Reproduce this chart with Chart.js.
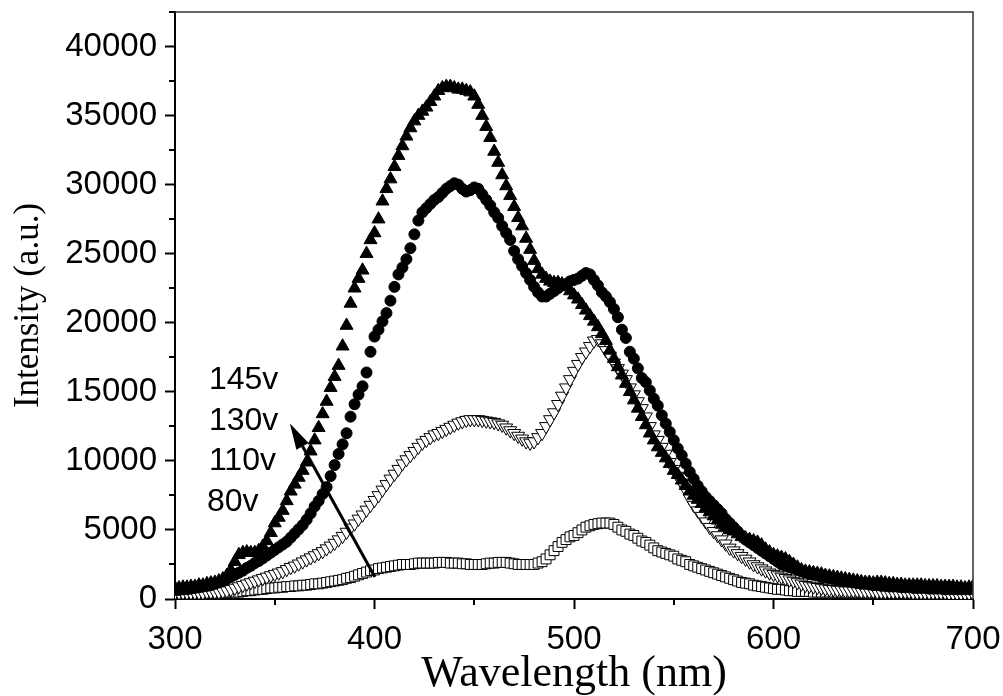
<!DOCTYPE html>
<html>
<head>
<meta charset="utf-8">
<script src="https://cdn.jsdelivr.net/npm/chart.js@4.4.1/dist/chart.umd.min.js"></script>
<style>
  html, body { margin: 0; padding: 0; background: #fff; }
  #wrap { width: 1003px; height: 696px; }
</style>
</head>
<body>
<div id="wrap"><canvas id="chart" width="1003" height="696"></canvas></div>
<script>
// wavelength grid of the spectra (nm)
const wavelengths = [
  300,302,304,306,308,310,312,314,316,318,
  320,322,324,326,328,330,332,334,336,338,
  340,342,344,346,348,350,352,354,356,358,
  360,362,364,366,368,370,372,374,376,378,
  380,382,384,386,388,390,392,394,396,398,
  400,402,404,406,408,410,412,414,416,418,
  420,422,424,426,428,430,432,434,436,438,
  440,442,444,446,448,450,452,454,456,458,
  460,462,464,466,468,470,472,474,476,478,
  480,482,484,486,488,490,492,494,496,498,
  500,502,504,506,508,510,512,514,516,518,
  520,522,524,526,528,530,532,534,536,538,
  540,542,544,546,548,550,552,554,556,558,
  560,562,564,566,568,570,572,574,576,578,
  580,582,584,586,588,590,592,594,596,598,
  600,602,604,606,608,610,612,614,616,618,
  620,622,624,626,628,630,632,634,636,638,
  640,642,644,646,648,650,652,654,656,658,
  660,662,664,666,668,670,672,674,676,678,
  680,682,684,686,688,690,692,694,696,698,
  700
];

// intensity (a.u.) per discharge voltage
const int145 = [
  800,800,850,850,900,900,1000,1000,1100,1150,
  1200,1300,1450,1700,2100,2700,3200,3350,3400,3350,
  3350,3500,3800,4200,4800,5500,5900,6400,7100,7800,
  8300,8800,9300,9900,10700,11500,12400,13400,14300,15300,
  16100,16900,18300,19800,21400,22500,23200,23800,25000,26000,
  26500,27500,28800,29700,30400,31300,32100,32800,33500,34100,
  34600,35000,35300,35600,36000,36400,36800,37000,37100,37100,
  37000,36900,36900,36800,36700,36400,35800,35000,34200,33400,
  32400,31600,30700,29900,29200,28400,27600,27000,26100,25300,
  24500,23900,23500,23200,23000,22900,22900,22800,22600,22300,
  22000,21700,21300,20900,20500,20100,19700,19200,18700,18000,
  17400,16800,16200,15600,15000,14400,13800,13200,12600,12000,
  11500,11000,10600,10200,9800,9300,9000,8600,8200,7800,
  7500,7200,6900,6600,6300,6000,5700,5400,5200,5000,
  4900,4700,4500,4400,4300,4200,4100,3900,3600,3400,
  3200,3100,3000,2900,2700,2500,2300,2100,2000,1950,
  1900,1850,1800,1700,1650,1600,1550,1500,1450,1400,
  1350,1300,1250,1200,1200,1150,1200,1200,1150,1100,
  1100,1050,1050,1000,1000,1000,1000,1000,950,950,
  950,950,900,900,900,900,850,850,800,850,
  900
];
const int130 = [
  650,650,700,700,750,800,850,900,950,1000,
  1100,1200,1300,1450,1600,1750,1900,2050,2250,2400,
  2600,2750,2950,3150,3350,3550,3750,3950,4150,4450,
  4750,5050,5350,5750,6200,6700,7100,7600,8100,8900,
  9700,10500,11200,12000,13200,14100,14800,15400,16400,17900,
  19000,19500,20100,20700,21600,22600,23500,24000,24600,25400,
  26400,27400,28000,28300,28600,28900,29100,29400,29700,29900,
  30100,30000,29700,29500,29600,29800,29700,29300,28900,28500,
  28000,27600,27000,26500,26000,25200,24600,24100,23600,23100,
  22600,22200,21900,21900,22100,22300,22500,22700,22800,23000,
  23100,23200,23400,23600,23500,23100,22700,22200,21900,21500,
  21000,20400,19500,18900,17900,17400,16700,16000,15700,15100,
  14500,14000,13300,12700,12100,11500,10900,10400,9800,9200,
  8700,8200,7800,7400,7100,6800,6500,6200,5800,5500,
  5200,4900,4600,4300,4100,3900,3700,3500,3300,3100,
  2900,2700,2500,2400,2300,2200,2100,2000,1900,1800,
  1750,1700,1600,1550,1500,1450,1400,1350,1300,1250,
  1200,1150,1100,1100,1050,1000,1000,950,950,900,
  900,900,850,850,850,800,800,800,800,750,
  750,750,750,700,700,700,700,700,700,700,
  700
];
const int110 = [
  450,450,450,450,450,450,450,450,500,500,
  500,500,550,600,700,800,900,1000,1100,1200,
  1300,1400,1500,1600,1700,1800,1900,2000,2150,2300,
  2400,2550,2700,2850,3000,3150,3300,3450,3650,3850,
  4050,4300,4550,4850,5150,5450,5800,6100,6450,6800,
  7150,7500,7900,8300,8700,9050,9400,9800,10100,10400,
  10700,11000,11300,11500,11700,11900,12000,12150,12300,12450,
  12600,12750,12850,12950,13000,13000,13000,12950,12900,12850,
  12800,12700,12600,12400,12200,12000,11800,11600,11400,11300,
  11400,11700,12000,12500,13000,13500,14100,14700,15300,15900,
  16500,17000,17500,17900,18300,18700,18800,18500,18000,17600,
  17100,16700,16300,15900,15300,14800,14300,13800,13200,12500,
  11900,11500,11000,10500,9900,9400,8900,8400,7900,7300,
  6800,6400,6000,5600,5200,4900,4600,4300,4000,3700,
  3500,3300,3100,2900,2700,2500,2350,2200,2050,1900,
  1800,1700,1600,1500,1400,1300,1200,1100,1000,950,
  900,850,800,750,700,700,650,650,600,600,
  600,600,550,550,550,550,500,500,500,500,
  500,500,500,500,500,450,450,450,450,450,
  450,450,450,450,400,400,400,400,400,400,
  400
];
const int80 = [
  450,450,450,450,450,450,450,450,450,450,
  450,450,450,450,500,500,500,550,600,600,
  650,700,700,750,800,800,850,850,900,900,
  950,950,1000,1000,1050,1100,1100,1150,1200,1250,
  1300,1350,1400,1500,1550,1650,1750,1850,1950,2050,
  2100,2200,2250,2300,2350,2400,2450,2500,2500,2500,
  2550,2600,2600,2600,2600,2600,2650,2650,2650,2600,
  2600,2600,2550,2550,2500,2500,2500,2500,2550,2600,
  2600,2650,2650,2650,2600,2550,2500,2500,2500,2500,
  2500,2600,2700,2900,3200,3500,3800,4100,4300,4500,
  4600,4800,5000,5200,5300,5400,5450,5500,5500,5500,
  5400,5200,5000,4900,4700,4600,4400,4200,4100,3900,
  3700,3500,3400,3300,3200,3100,2900,2800,2700,2500,
  2400,2300,2200,2100,2000,1900,1800,1700,1600,1500,
  1400,1300,1200,1150,1100,1000,950,900,850,800,
  750,700,700,650,600,600,550,550,550,550,
  500,500,500,500,500,500,500,500,500,500,
  500,500,500,500,500,500,500,500,500,500,
  500,500,500,500,450,450,450,450,450,450,
  450,450,450,450,450,450,450,450,450,450,
  450
];

const voltageLabels = ['145v', '130v', '110v', '80v'];

// where the voltage notes and the arrow sit, in data units
const labelPosX = [317, 317, 317, 316];
const labelPosY = [15200, 12270, 9340, 6370];
const arrowTail = {x: 400.2, y: 1600};
const arrowTip = {x: 357.6, y: 12700};

const pts = arr => wavelengths.map((w, i) => ({x: w, y: arr[i]}));

const sansFont = '"Liberation Sans", Arial, sans-serif';
const serifFont = '"Liberation Serif", "Times New Roman", serif';

// minor ticks, frame, annotations
const decor = {
    id: 'decor',
    afterDatasetsDraw(chart) {
        const {ctx, chartArea: a, scales: {x, y}} = chart;
        ctx.save();
        // top / right frame
        ctx.strokeStyle = '#333';
        ctx.lineWidth = 1.5;
        ctx.beginPath();
        ctx.moveTo(a.left, a.top);
        ctx.lineTo(a.right, a.top);
        ctx.lineTo(a.right, a.bottom);
        ctx.stroke();

        // minor ticks
        ctx.strokeStyle = '#000';
        ctx.lineWidth = 2;
        ctx.beginPath();
        y.ticks.filter(t => t.value % 5000 !== 0).forEach(t => {
            const py = Math.round(y.getPixelForValue(t.value));
            ctx.moveTo(a.left - 6, py);
            ctx.lineTo(a.left, py);
        });
        x.ticks.filter(t => t.value % 100 !== 0).forEach(t => {
            const px = Math.round(x.getPixelForValue(t.value));
            ctx.moveTo(px, a.bottom);
            ctx.lineTo(px, a.bottom + 6);
        });
        ctx.stroke();

        // voltage notes
        ctx.fillStyle = '#000';
        ctx.font = '32px ' + sansFont;
        ctx.textAlign = 'left';
        ctx.textBaseline = 'alphabetic';
        voltageLabels.forEach((t, i) => {
            ctx.fillText(t, x.getPixelForValue(labelPosX[i]), y.getPixelForValue(labelPosY[i]));
        });

        // arrow
        const x0 = x.getPixelForValue(arrowTail.x), y0 = y.getPixelForValue(arrowTail.y);
        const x1 = x.getPixelForValue(arrowTip.x), y1 = y.getPixelForValue(arrowTip.y);
        const ang = Math.atan2(y1 - y0, x1 - x0);
        const headLen = 26, headHalf = 7;
        const bx = x1 - Math.cos(ang) * headLen, by = y1 - Math.sin(ang) * headLen;
        ctx.lineWidth = 3;
        ctx.beginPath();
        ctx.moveTo(x0, y0);
        ctx.lineTo(bx, by);
        ctx.stroke();
        ctx.beginPath();
        ctx.moveTo(x1, y1);
        ctx.lineTo(bx + Math.sin(ang) * headHalf, by - Math.cos(ang) * headHalf);
        ctx.lineTo(bx - Math.sin(ang) * headHalf, by + Math.cos(ang) * headHalf);
        ctx.closePath();
        ctx.fill();
        ctx.restore();
    }
};

Chart.defaults.font.family = sansFont;
Chart.defaults.color = '#000';

new Chart(document.getElementById('chart'), {
    type: 'scatter',
    data: {
        datasets: [
            {label: voltageLabels[0], data: pts(int145), pointStyle: 'triangle', pointRadius: 7.5,
             pointBackgroundColor: '#000', pointBorderColor: '#000', pointBorderWidth: 1},
            {label: voltageLabels[1], data: pts(int130), pointStyle: 'circle', pointRadius: 5.5,
             pointBackgroundColor: '#000', pointBorderColor: '#000', pointBorderWidth: 1},
            {label: voltageLabels[2], data: pts(int110), pointStyle: 'triangle', pointRotation: 180, pointRadius: 7.5,
             pointBackgroundColor: '#fff', pointBorderColor: '#000', pointBorderWidth: 1},
            {label: voltageLabels[3], data: pts(int80), pointStyle: 'rect', pointRadius: 7,
             pointBackgroundColor: '#fff', pointBorderColor: '#000', pointBorderWidth: 1}
        ]
    },
    options: {
        responsive: false,
        animation: false,
        devicePixelRatio: 1,
        layout: {padding: {top: 12, right: 30, left: 0, bottom: 0}},
        plugins: {legend: {display: false}, tooltip: {enabled: false}},
        scales: {
            x: {
                type: 'linear', min: 300, max: 700,
                afterFit: s => { s.height = 97; s.paddingLeft = 0; s.paddingRight = 0; },
                border: {display: true, color: '#000', width: 2},
                grid: {drawOnChartArea: false, drawTicks: true, tickLength: 10, tickWidth: 2,
                       tickColor: c => (c.tick && c.tick.value % 100 === 0) ? '#000' : 'rgba(0,0,0,0)'},
                ticks: {stepSize: 50, autoSkip: false, maxRotation: 0, padding: 11,
                        font: {size: 33, family: sansFont},
                        callback: v => v % 100 === 0 ? v : ''},
                title: {display: true, text: 'Wavelength (nm)', color: '#000',
                        font: {size: 44, family: serifFont, lineHeight: 1.0}, padding: {top: 0, bottom: 0}}
            },
            y: {
                type: 'linear', min: 0, max: 42500,
                afterFit: s => { s.width = 175; s.paddingTop = 0; s.paddingBottom = 0; },
                border: {display: true, color: '#000', width: 2},
                grid: {drawOnChartArea: false, drawTicks: true, tickLength: 10, tickWidth: 2,
                       tickColor: c => (c.tick && c.tick.value % 5000 === 0) ? '#000' : 'rgba(0,0,0,0)'},
                ticks: {stepSize: 2500, autoSkip: false, padding: 8,
                        font: {size: 33, family: sansFont},
                        callback: v => v % 5000 === 0 ? v : ''},
                title: {display: true, text: 'Intensity (a.u.)', color: '#000',
                        font: {size: 35, family: serifFont}, padding: {top: 8, bottom: 0}}
            }
        }
    },
    plugins: [decor]
});
</script>
</body>
</html>
